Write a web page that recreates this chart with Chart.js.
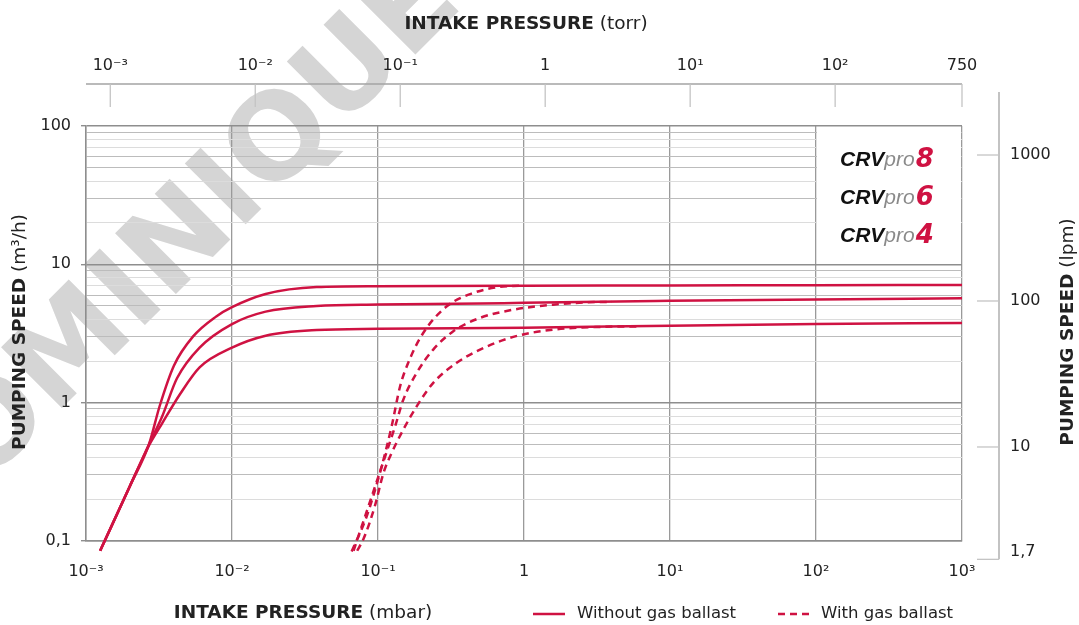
<!DOCTYPE html>
<html>
<head>
<meta charset="utf-8">
<script src="https://cdn.jsdelivr.net/npm/chart.js@4.4.1/dist/chart.umd.min.js"></script>
<style>
  html, body { margin: 0; padding: 0; background: #fff; }
  #wrap { width: 1079px; height: 625px; position: relative; }
</style>
</head>
<body>
<div id="wrap"><canvas id="speedChart"></canvas></div>
<script>
/* ---- data (mbar -> m3/h) ---- */
const pSolid8 = [0.00125, 0.002, 0.0027, 0.0032, 0.004, 0.0054, 0.0078, 0.01, 0.017, 0.038, 0.1, 1, 10, 100, 1000];
const sSolid8 = [0.085, 0.25, 0.5, 0.95, 1.85, 3.0, 4.2, 4.9, 6.1, 6.85, 6.95, 7.0, 7.03, 7.07, 7.1];

const pSolid6 = [0.00125, 0.002, 0.0027, 0.0033, 0.0042, 0.006, 0.01, 0.017, 0.038, 0.1, 0.5, 1, 10, 100, 1000];
const sSolid6 = [0.085, 0.25, 0.5, 0.78, 1.5, 2.5, 3.7, 4.55, 5.0, 5.12, 5.2, 5.28, 5.45, 5.58, 5.68];

const pSolid4 = [0.00125, 0.002, 0.0027, 0.0033, 0.0044, 0.006, 0.01, 0.017, 0.038, 0.1, 1, 10, 100, 1000];
const sSolid4 = [0.085, 0.25, 0.49, 0.7, 1.15, 1.8, 2.5, 3.05, 3.35, 3.42, 3.48, 3.6, 3.7, 3.77];

const pBallast8 = [0.066, 0.0837, 0.103, 0.124, 0.1416, 0.161, 0.204, 0.296, 0.45, 0.685, 0.94];
const sBallast8 = [0.084, 0.151, 0.31, 0.674, 1.31, 1.94, 3.19, 4.97, 6.21, 6.87, 7.0];

const pBallast6 = [0.068, 0.086, 0.112, 0.131, 0.149, 0.184, 0.239, 0.328, 0.5, 0.845, 1.58, 2.55, 4];
const sBallast6 = [0.085, 0.178, 0.41, 0.674, 1.05, 1.64, 2.42, 3.28, 4.1, 4.7, 5.11, 5.3, 5.36];

const pBallast4 = [0.072, 0.08, 0.095, 0.109, 0.124, 0.149, 0.184, 0.239, 0.346, 0.5, 0.845, 1.58, 3.32, 6];
const sBallast4 = [0.085, 0.105, 0.178, 0.31, 0.433, 0.638, 0.94, 1.39, 1.94, 2.42, 2.99, 3.37, 3.53, 3.56];

/* ---- axes ---- */
const xTickValues = [0.001, 0.01, 0.1, 1, 10, 100, 1000];
const xTickLabels = ['10\u207B\u00B3', '10\u207B\u00B2', '10\u207B\u00B9', '1', '10\u00B9', '10\u00B2', '10\u00B3'];
const yTickValues = [0.1, 1, 10, 100];
const yTickLabels = ['0,1', '1', '10', '100'];
const torrTickValues = [0.001, 0.01, 0.1, 1, 10, 100, 750];
const torrTickLabels = ['10\u207B\u00B3', '10\u207B\u00B2', '10\u207B\u00B9', '1', '10\u00B9', '10\u00B2', '750'];
const lpmTickValues = [1000, 100, 10, 1.7];
const lpmTickLabels = ['1000', '100', '10', '1,7'];
const modelNames = ['8', '6', '4'];
const legendLabels = ['Without gas ballast', 'With gas ballast'];

const FONT  = '"DejaVu Sans", sans-serif';
const RED   = '#cf1242';
const INK   = '#222';
const MAJOR = '#8e8e8e';
const MID   = '#bcbcbc';
const LIGHT = '#dcdcdc';

const toPoints = (p, s) => p.map((v, i) => ({ x: v, y: s[i] }));

function curve(p, s, dashed) {
  return {
    data: toPoints(p, s),
    borderColor: RED,
    borderWidth: 2.5,
    borderDash: dashed ? [7, 5] : [],
    pointRadius: 0,
    cubicInterpolationMode: 'monotone',
    clip: false,
    xAxisID: 'x',
    yAxisID: 'y'
  };
}

function isDecade(v) {
  const e = Math.log10(v);
  return Math.abs(e - Math.round(e)) < 1e-6;
}

function minorColor(v) {
  const d = Math.round(v / Math.pow(10, Math.floor(Math.log10(v) + 1e-9)));
  return [3, 5, 6, 9].includes(d) ? MID : LIGHT;
}

// draw a line of text made of parts in different fonts, centred on (x, y)
function mixedText(ctx, parts, x, y, angle) {
  ctx.save();
  ctx.translate(x, y);
  if (angle) ctx.rotate(angle);
  let total = 0;
  parts.forEach(p => { ctx.font = p.font; p.w = ctx.measureText(p.text).width; total += p.w; });
  let cx = -total / 2;
  ctx.textAlign = 'left';
  ctx.textBaseline = 'middle';
  parts.forEach(p => {
    ctx.font = p.font;
    ctx.fillStyle = p.color || INK;
    ctx.fillText(p.text, cx, 0);
    cx += p.w;
  });
  ctx.restore();
}

const decorations = {
  id: 'decorations',

  beforeDraw(chart) {
    const ctx = chart.ctx;
    ctx.save();
    ctx.fillStyle = '#fff';
    ctx.fillRect(0, 0, chart.width, chart.height);
    // watermark
    ctx.translate(-86, 556);
    ctx.rotate(-Math.PI / 4);
    ctx.font = 'bold 118px ' + FONT;
    ctx.fillStyle = '#d5d5d5';
    ctx.textBaseline = 'alphabetic';
    ctx.fillText('DOMINIQUE', 0, 0);
    ctx.restore();
  },

  beforeDatasetsDraw(chart) {
    const { ctx, scales: { x, y } } = chart;
    // blank cell holding the model names
    const l = x.getPixelForValue(100), r = x.getPixelForValue(1000);
    const t = y.getPixelForValue(100), b = y.getPixelForValue(10);
    ctx.save();
    ctx.fillStyle = '#fff';
    ctx.fillRect(l + 1, t + 1, r - l - 2, b - t - 2);
    const rowY = [160, 198, 236];
    modelNames.forEach((m, i) => {
      let cx = 840;
      ctx.textBaseline = 'middle';
      ctx.textAlign = 'left';
      ctx.font = 'italic bold 21px "Liberation Sans", sans-serif';
      ctx.fillStyle = '#111';
      ctx.fillText('CRV', cx, rowY[i]);
      cx += ctx.measureText('CRV').width;
      ctx.font = 'italic 21px "Liberation Sans", sans-serif';
      ctx.fillStyle = '#8a8a8a';
      ctx.fillText('pro', cx, rowY[i]);
      cx += ctx.measureText('pro').width + 1;
      ctx.font = 'italic bold 26px ' + FONT;
      ctx.fillStyle = RED;
      ctx.fillText(m, cx, rowY[i]);
    });
    ctx.restore();
  },

  afterDraw(chart) {
    const ctx = chart.ctx;
    const xt = chart.scales.xTorr;
    const yl = chart.scales.yLpm;
    ctx.save();

    // top axis (torr)
    const axisY = 84, tickEnd = 107;
    ctx.strokeStyle = '#a3a3a3';
    ctx.lineWidth = 1.3;
    ctx.beginPath();
    ctx.moveTo(xt.left, axisY);
    ctx.lineTo(xt.right, axisY);
    ctx.stroke();
    ctx.strokeStyle = '#c4c4c4';
    ctx.font = '16px ' + FONT;
    ctx.fillStyle = INK;
    ctx.textAlign = 'center';
    ctx.textBaseline = 'middle';
    torrTickValues.forEach((v, i) => {
      const px = xt.getPixelForValue(v);
      ctx.beginPath();
      ctx.moveTo(px, axisY);
      ctx.lineTo(px, tickEnd);
      ctx.stroke();
      ctx.fillText(torrTickLabels[i], px, 66);
    });

    // right axis (lpm)
    const axisX = 999, tickStart = 977;
    const bottom = yl.getPixelForValue(lpmTickValues[lpmTickValues.length - 1]);
    ctx.strokeStyle = '#a3a3a3';
    ctx.beginPath();
    ctx.moveTo(axisX, 92);
    ctx.lineTo(axisX, bottom);
    ctx.stroke();
    ctx.strokeStyle = '#c4c4c4';
    ctx.textAlign = 'left';
    lpmTickValues.forEach((v, i) => {
      const py = yl.getPixelForValue(v);
      ctx.beginPath();
      ctx.moveTo(tickStart, py);
      ctx.lineTo(axisX, py);
      ctx.stroke();
      const last = i === lpmTickValues.length - 1;
      ctx.fillText(lpmTickLabels[i], 1010, last ? py - 7 : py);
    });

    // axis titles
    const bold = 'bold 18.5px ' + FONT, reg = '18.5px ' + FONT;
    mixedText(ctx, [{ text: 'INTAKE PRESSURE', font: bold }, { text: ' (torr)', font: reg }], 526, 24);
    mixedText(ctx, [{ text: 'INTAKE PRESSURE', font: bold }, { text: ' (mbar)', font: reg }], 303, 613);
    mixedText(ctx, [{ text: 'PUMPING SPEED', font: bold }, { text: ' (m\u00B3/h)', font: reg }], 20, 332, -Math.PI / 2);
    mixedText(ctx, [{ text: 'PUMPING SPEED', font: bold }, { text: ' (lpm)', font: reg }], 1068, 332, -Math.PI / 2);

    // legend
    const ly = 614;
    ctx.strokeStyle = RED;
    ctx.lineWidth = 2.5;
    ctx.beginPath();
    ctx.moveTo(533, ly); ctx.lineTo(565, ly);
    ctx.stroke();
    ctx.setLineDash([7, 5]);
    ctx.beginPath();
    ctx.moveTo(778, ly); ctx.lineTo(812, ly);
    ctx.stroke();
    ctx.setLineDash([]);
    ctx.font = '16.5px ' + FONT;
    ctx.fillStyle = INK;
    ctx.textAlign = 'left';
    ctx.textBaseline = 'middle';
    ctx.fillText(legendLabels[0], 577, ly);
    ctx.fillText(legendLabels[1], 821, ly);

    ctx.restore();
  }
};

new Chart(document.getElementById('speedChart'), {
  type: 'line',
  data: {
    datasets: [
      curve(pSolid8, sSolid8, false),
      curve(pSolid6, sSolid6, false),
      curve(pSolid4, sSolid4, false),
      curve(pBallast8, sBallast8, true),
      curve(pBallast6, sBallast6, true),
      curve(pBallast4, sBallast4, true)
    ]
  },
  options: {
    responsive: true,
    maintainAspectRatio: false,
    animation: false,
    layout: { padding: { left: 0, right: 117, top: 126, bottom: 0 } },
    plugins: {
      legend: { display: false },
      tooltip: { enabled: false }
    },
    scales: {
      x: {
        type: 'logarithmic',
        position: 'bottom',
        min: 0.001,
        max: 1000,
        afterBuildTicks: sc => { sc.ticks = xTickValues.map(v => ({ value: v })); },
        afterFit: sc => { sc.height = 84; },
        ticks: {
          autoSkip: false,
          maxRotation: 0,
          padding: 21,
          color: INK,
          font: { family: FONT, size: 16 },
          callback: (v, i) => xTickLabels[i]
        },
        grid: { color: '#9a9a9a', lineWidth: 1.3, drawTicks: false },
        border: { color: MAJOR, width: 1.5 }
      },
      y: {
        type: 'logarithmic',
        position: 'left',
        min: 0.1,
        max: 100,
        afterBuildTicks: sc => {
          const list = [];
          for (let d = 0; d < yTickValues.length; d++) {
            const base = yTickValues[d];
            list.push({ value: base });
            if (d < yTickValues.length - 1) {
              for (let k = 2; k <= 9; k++) list.push({ value: +(base * k).toPrecision(6) });
            }
          }
          sc.ticks = list;
        },
        afterFit: sc => { sc.width = 86; },
        ticks: {
          autoSkip: false,
          padding: 10,
          color: INK,
          font: { family: FONT, size: 16 },
          callback: v => {
            const i = yTickValues.findIndex(t => Math.abs(t - v) < 1e-9);
            return i >= 0 ? yTickLabels[i] : '';
          }
        },
        grid: {
          color: c => isDecade(c.tick.value) ? MAJOR : minorColor(c.tick.value),
          lineWidth: c => isDecade(c.tick.value) ? 1.4 : 1,
          tickColor: c => isDecade(c.tick.value) ? MAJOR : 'rgba(0,0,0,0)',
          tickLength: 5
        },
        border: { color: MAJOR, width: 1.5 }
      },
      xTorr: {
        axis: 'x',
        type: 'logarithmic',
        position: 'top',
        display: false,
        min: 0.00068,
        max: 750
      },
      yLpm: {
        axis: 'y',
        type: 'logarithmic',
        position: 'right',
        display: false,
        min: 2.27,
        max: 1580
      }
    }
  },
  plugins: [decorations]
});
</script>
</body>
</html>
